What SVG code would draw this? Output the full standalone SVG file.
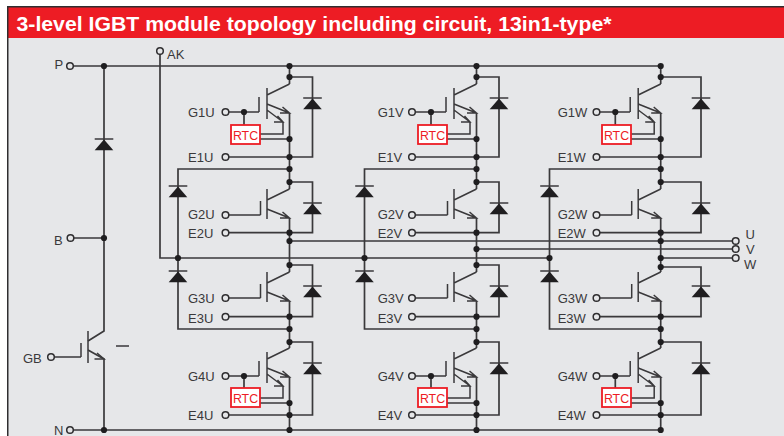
<svg xmlns="http://www.w3.org/2000/svg" width="784" height="436" viewBox="0 0 784 436">
<style>
.w{fill:none;stroke:#3a393b;stroke-width:1.7}
.t{fill:none;stroke:#3a393b;stroke-width:1.5}
.f{fill:#1f1e20}
.o{fill:#e6e7e9;stroke:#2f2e30;stroke-width:1.5}
.l{font-family:"Liberation Sans",Arial,sans-serif;font-size:13px;fill:#3a393b}
.r{font-family:"Liberation Sans",Arial,sans-serif;font-size:12.4px;fill:#ed1c24;text-anchor:middle}
.x{fill:#fff;stroke:#ed1c24;stroke-width:1.8}
</style>
<defs>
<circle id="d" class="f" r="3.1"/>
<circle id="c" class="o" r="3.3"/>
<g id="diode"><path class="t" d="M-9.3 0H9.3"/><path class="f" d="M0 .5L9.3 11.2H-9.3Z"/></g>
<g id="qp"><path class="t" d="M-29 -14V0M-22.5 -26V4M-22.5 -15L0 -26M-22.5 -6L0 3M-9.5 3H0L-7 -3"/></g>
<g id="qr"><path class="t" d="M-30.5 -15V0M-22.5 -24V7M-22.5 -17L0 -28M-22.5 -8L0 1M-9.5 1H0L-7 -5M-22.5 -2L-6.5 10V22H-29.5M-15.5 10H-6.5L-12 4"/></g>
</defs>
<rect x="7" y="6" width="777" height="430" fill="#2f2e30"/>
<rect x="8.5" y="7.5" width="775.5" height="31" fill="#ed1c24"/>
<rect x="8.5" y="38" width="775.5" height="398" fill="#e6e7e9"/>
<text x="16.500" y="31" font-family="'Liberation Sans',Arial,sans-serif" font-size="19.5" font-weight="bold" fill="#fff" textLength="595" lengthAdjust="spacingAndGlyphs">3-level IGBT module topology including circuit, 13in1-type*</text>
<g id="connectors">
<path class="w" d="M73 66H660.700M73 238H104M54 357H81M73 430H660.700"/>
<path class="w" d="M104 66V331L88 341M88 350L104 359V430"/>
<path class="w" d="M160 54V258H549.500M289.500 241H732.500M476.500 249H732.500M660.700 258H732.500"/>
<path class="w" d="M289.500 66V84M289.500 113V189M289.500 218V272M289.500 301V348M289.500 377V430"/>
<path class="w" d="M476.500 66V84M476.500 113V189M476.500 218V272M476.500 301V348M476.500 377V430"/>
<path class="w" d="M660.700 66V84M660.700 113V189M660.700 218V272M660.700 301V348M660.700 377V430"/>
<path class="w" d="M289.500 77H312.500V157H229M289.500 182H312.500V232.700H229M289.500 265H312.500V316.700H229M289.500 342H312.500V415H229M289.500 169H178V329H289.500M260 139H289.500M260 403H289.500"/>
<path class="w" d="M476.500 77H499V157H415.500M476.500 182H499V232.700H415.500M476.500 265H499V316.700H415.500M476.500 342H499V415H415.500M476.500 169H364.500V329H476.500M447 139H476.500M447 403H476.500"/>
<path class="w" d="M660.700 77H701V157H600M660.700 182H701V232.700H600M660.700 267H701V316.700H600M660.700 342H701V415H600M660.700 169H549.500V329H660.700M631 139H660.700M631 403H660.700"/>
<path class="w" d="M229 112H259M244 112V125M229 215H260.500M229 298H260.500M229 376H259M244 376V388"/>
<path class="w" d="M415.500 112H446M431 112V125M415.500 215H447.500M415.500 298H447.500M415.500 376H446M431 376V388"/>
<path class="w" d="M600 112H630M615.300 112V125M600 215H631.700M600 298H631.700M600 376H630M615.300 376V388"/>
<use href="#d" x="104" y="66"/><use href="#d" x="104" y="238"/><use href="#d" x="104" y="430"/>
<use href="#d" x="178" y="258"/><use href="#d" x="364.500" y="258"/><use href="#d" x="549.500" y="258"/>
<use href="#d" x="289.500" y="66"/><use href="#d" x="289.500" y="77"/><use href="#d" x="289.500" y="139"/><use href="#d" x="289.500" y="157"/><use href="#d" x="289.500" y="169"/><use href="#d" x="289.500" y="182"/><use href="#d" x="289.500" y="232.700"/><use href="#d" x="289.500" y="241"/><use href="#d" x="289.500" y="265"/><use href="#d" x="289.500" y="316.700"/><use href="#d" x="289.500" y="329"/><use href="#d" x="289.500" y="342"/><use href="#d" x="289.500" y="403"/><use href="#d" x="289.500" y="415"/><use href="#d" x="289.500" y="430"/>
<use href="#d" x="476.500" y="66"/><use href="#d" x="476.500" y="77"/><use href="#d" x="476.500" y="139"/><use href="#d" x="476.500" y="157"/><use href="#d" x="476.500" y="169"/><use href="#d" x="476.500" y="182"/><use href="#d" x="476.500" y="232.700"/><use href="#d" x="476.500" y="249"/><use href="#d" x="476.500" y="265"/><use href="#d" x="476.500" y="316.700"/><use href="#d" x="476.500" y="329"/><use href="#d" x="476.500" y="342"/><use href="#d" x="476.500" y="403"/><use href="#d" x="476.500" y="415"/><use href="#d" x="476.500" y="430"/>
<use href="#d" x="660.700" y="66"/><use href="#d" x="660.700" y="77"/><use href="#d" x="660.700" y="139"/><use href="#d" x="660.700" y="157"/><use href="#d" x="660.700" y="169"/><use href="#d" x="660.700" y="182"/><use href="#d" x="660.700" y="232.700"/><use href="#d" x="660.700" y="241"/><use href="#d" x="660.700" y="258"/><use href="#d" x="660.700" y="267"/><use href="#d" x="660.700" y="316.700"/><use href="#d" x="660.700" y="329"/><use href="#d" x="660.700" y="342"/><use href="#d" x="660.700" y="403"/><use href="#d" x="660.700" y="415"/><use href="#d" x="660.700" y="430"/>
<use href="#d" x="244" y="112"/><use href="#d" x="431" y="112"/><use href="#d" x="615.300" y="112"/><use href="#d" x="244" y="376"/><use href="#d" x="431" y="376"/><use href="#d" x="615.300" y="376"/>
</g>
<g id="term-P"><use href="#c" x="70" y="66"/><text class="l" x="54.500" y="68.500">P</text></g>
<g id="term-AK"><use href="#c" x="160" y="51"/><text class="l" x="167" y="58.700">AK</text></g>
<g id="term-B"><use href="#c" x="70.500" y="238"/><text class="l" x="54" y="245">B</text></g>
<g id="term-N"><use href="#c" x="70" y="430"/><text class="l" x="54" y="434.500">N</text></g>
<g id="term-U"><use href="#c" x="735.700" y="241"/><text class="l" x="745.500" y="239">U</text></g>
<g id="term-V"><use href="#c" x="735.700" y="249"/><text class="l" x="746" y="253.800">V</text></g>
<g id="term-W"><use href="#c" x="735.700" y="258"/><text class="l" x="744" y="268.500">W</text></g>
<g id="GB"><use href="#c" x="51" y="357"/><text class="l" x="23" y="362.700">GB</text><path class="t" d="M81 343V357M88 331V363M94.500 359H104L97 353M116 346H129"/></g>
<g id="DB"><use href="#diode" x="104" y="139"/></g>
<g id="D-left"><use href="#diode" x="178" y="186"/><use href="#diode" x="178" y="271"/><use href="#diode" x="364.500" y="186"/><use href="#diode" x="364.500" y="271"/><use href="#diode" x="549.500" y="186"/><use href="#diode" x="549.500" y="271"/></g>
<g id="Q1U"><use href="#qr" x="289.500" y="112"/><use href="#diode" x="312.500" y="98"/><rect class="x" x="231" y="125" width="29" height="19"/><text class="r" x="245.500" y="140">RTC</text><use href="#c" x="225.500" y="112"/><use href="#c" x="225.500" y="157"/><text class="l" x="188" y="117">G1U</text><text class="l" x="188" y="162">E1U</text></g>
<g id="Q2U"><use href="#qp" x="289.500" y="215"/><use href="#diode" x="312.500" y="203"/><use href="#c" x="225.500" y="215"/><use href="#c" x="225.500" y="232.700"/><text class="l" x="188" y="218.500">G2U</text><text class="l" x="188" y="237.700">E2U</text></g>
<g id="Q3U"><use href="#qp" x="289.500" y="298"/><use href="#diode" x="312.500" y="286"/><use href="#c" x="225.500" y="298"/><use href="#c" x="225.500" y="316.700"/><text class="l" x="188" y="303">G3U</text><text class="l" x="188" y="322.500">E3U</text></g>
<g id="Q4U"><use href="#qr" x="289.500" y="376"/><use href="#diode" x="312.500" y="363"/><rect class="x" x="231" y="388" width="29" height="19"/><text class="r" x="245.500" y="403">RTC</text><use href="#c" x="225.500" y="376"/><use href="#c" x="225.500" y="415"/><text class="l" x="188" y="381">G4U</text><text class="l" x="188" y="419.500">E4U</text></g>
<g id="Q1V"><use href="#qr" x="476.500" y="112"/><use href="#diode" x="499" y="98"/><rect class="x" x="418" y="125" width="29" height="19"/><text class="r" x="432.500" y="140">RTC</text><use href="#c" x="412" y="112"/><use href="#c" x="412" y="157"/><text class="l" x="377.700" y="117">G1V</text><text class="l" x="377.700" y="162">E1V</text></g>
<g id="Q2V"><use href="#qp" x="476.500" y="215"/><use href="#diode" x="499" y="203"/><use href="#c" x="412" y="215"/><use href="#c" x="412" y="232.700"/><text class="l" x="377.700" y="218.500">G2V</text><text class="l" x="377.700" y="237.700">E2V</text></g>
<g id="Q3V"><use href="#qp" x="476.500" y="298"/><use href="#diode" x="499" y="286"/><use href="#c" x="412" y="298"/><use href="#c" x="412" y="316.700"/><text class="l" x="377.700" y="303">G3V</text><text class="l" x="377.700" y="322.500">E3V</text></g>
<g id="Q4V"><use href="#qr" x="476.500" y="376"/><use href="#diode" x="499" y="363"/><rect class="x" x="418" y="388" width="29" height="19"/><text class="r" x="432.500" y="403">RTC</text><use href="#c" x="412" y="376"/><use href="#c" x="412" y="415"/><text class="l" x="377.700" y="381">G4V</text><text class="l" x="377.700" y="419.500">E4V</text></g>
<g id="Q1W"><use href="#qr" x="660.700" y="112"/><use href="#diode" x="701" y="98"/><rect class="x" x="602" y="125" width="29" height="19"/><text class="r" x="616.500" y="140">RTC</text><use href="#c" x="596.500" y="112"/><use href="#c" x="596.500" y="157"/><text class="l" x="557.700" y="117">G1W</text><text class="l" x="557.700" y="162">E1W</text></g>
<g id="Q2W"><use href="#qp" x="660.700" y="215"/><use href="#diode" x="701" y="203"/><use href="#c" x="596.500" y="215"/><use href="#c" x="596.500" y="232.700"/><text class="l" x="557.700" y="218.500">G2W</text><text class="l" x="557.700" y="237.700">E2W</text></g>
<g id="Q3W"><use href="#qp" x="660.700" y="298"/><use href="#diode" x="701" y="286"/><use href="#c" x="596.500" y="298"/><use href="#c" x="596.500" y="316.700"/><text class="l" x="557.700" y="303">G3W</text><text class="l" x="557.700" y="322.500">E3W</text></g>
<g id="Q4W"><use href="#qr" x="660.700" y="376"/><use href="#diode" x="701" y="363"/><rect class="x" x="602" y="388" width="29" height="19"/><text class="r" x="616.500" y="403">RTC</text><use href="#c" x="596.500" y="376"/><use href="#c" x="596.500" y="415"/><text class="l" x="557.700" y="381">G4W</text><text class="l" x="557.700" y="419.500">E4W</text></g>
</svg>
